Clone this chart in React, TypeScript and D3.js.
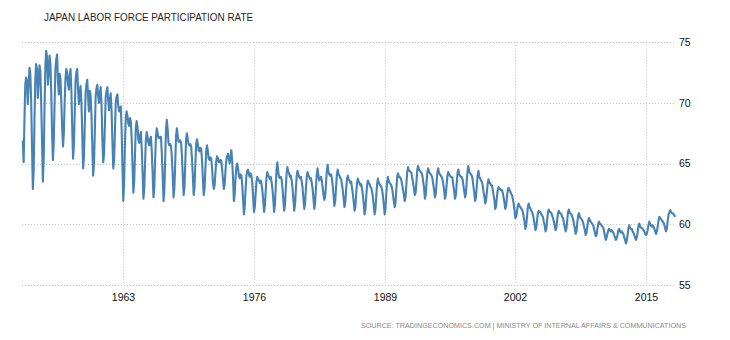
import React from "react";
import * as d3 from "d3";

const title = "JAPAN LABOR FORCE PARTICIPATION RATE";
const source = "SOURCE: TRADINGECONOMICS.COM | MINISTRY OF INTERNAL AFFAIRS & COMMUNICATIONS";
const startYear = 1953;
const xTickYears = [1963, 1976, 1989, 2002, 2015];
const yTicks = [55, 60, 65, 70, 75];

// monthly values (Jan..Dec), one row per year from 1953
const monthlyRows = [
  "66.9 65.1 68.5 71.5 72.1 71.8 69.9 71.5 72.9 72.4 70.2 66.5",
  "62.9 64.5 68.5 72.0 73.2 72.8 70.4 71.8 73.1 72.6 70.0 66.8",
  "63.5 65.5 69.5 73.0 74.3 73.8 71.5 72.5 73.9 73.2 70.8 67.5",
  "65.3 66.8 70.0 72.8 73.6 74.0 71.8 70.7 72.4 72.0 70.0 68.0",
  "66.4 67.5 70.0 72.0 72.8 72.5 71.6 71.1 72.2 72.8 71.0 68.0",
  "65.4 66.5 69.0 71.8 72.5 72.8 71.2 69.9 70.8 71.4 70.0 67.5",
  "64.6 65.5 68.0 70.8 71.5 71.9 70.5 69.3 71.0 70.6 69.0 66.5",
  "64.0 65.0 67.5 70.5 71.2 71.5 70.6 70.0 70.8 71.3 69.8 67.0",
  "65.1 65.8 68.0 70.5 71.0 71.3 70.2 69.4 70.3 70.8 69.3 66.8",
  "64.6 65.3 67.5 70.0 70.5 70.7 69.8 69.3 69.5 69.7 67.8 64.8",
  "61.9 63.5 66.5 68.8 69.3 68.9 68.3 68.1 68.75 68.5 67.0 65.0",
  "62.6 63.5 65.8 68.0 68.5 68.0 67.0 66.7 67.3 67.6 66.2 64.3",
  "62.1 62.9 65.0 67.0 67.6 67.2 66.7 66.5 67.0 67.2 66.0 64.2",
  "62.2 63.0 65.2 67.2 67.9 67.5 67.1 67.1 67.2 67.2 65.8 64.0",
  "61.9 62.8 65.2 67.8 68.6 67.8 66.7 66.5 66.6 66.4 65.5 64.0",
  "62.2 63.0 65.0 67.3 67.9 67.3 66.8 66.8 66.9 66.7 65.6 64.0",
  "62.4 63.0 65.0 67.0 67.5 67.0 66.6 66.5 66.6 66.4 65.4 64.0",
  "62.4 63.0 64.8 66.6 67.0 66.6 66.1 66.0 66.3 66.2 65.2 63.8",
  "62.4 62.9 64.5 66.0 66.5 66.0 65.4 65.3 65.5 65.4 64.6 63.5",
  "62.9 63.2 64.2 65.2 65.6 65.4 65.1 65.1 65.3 65.2 64.5 63.7",
  "62.9 63.3 64.4 65.3 65.6 65.8 65.4 65.0 65.6 66.1 65.2 63.8",
  "61.9 62.5 63.8 64.7 65.0 64.6 64.0 63.8 64.1 64.0 63.2 62.0",
  "60.8 61.5 62.8 64.0 64.4 64.5 64.1 63.9 64.2 64.0 63.4 62.3",
  "61.0 61.4 62.5 63.5 63.9 63.7 63.6 63.4 63.6 63.3 62.8 62.0",
  "61.0 61.5 62.7 63.9 64.3 64.0 63.9 63.7 63.9 63.5 62.9 62.1",
  "61.0 61.6 63.0 64.5 65.1 64.3 63.9 63.8 63.9 63.7 63.0 62.1",
  "61.1 61.6 62.9 64.2 64.7 64.3 64.2 63.9 64.0 63.6 63.0 62.1",
  "61.1 61.6 62.8 64.0 64.4 64.1 63.9 63.8 63.9 63.5 63.0 62.1",
  "61.25 61.7 62.9 63.9 64.3 64.0 63.9 63.7 63.8 63.4 62.9 62.1",
  "61.25 61.8 63.0 64.1 64.6 64.0 63.6 63.7 63.9 63.6 63.0 62.4",
  "62.0 62.3 63.3 64.4 64.9 64.3 64.1 64.0 64.1 63.8 63.2 62.4",
  "61.5 61.9 63.0 64.1 64.5 64.1 64.0 63.8 63.7 63.3 62.8 62.1",
  "61.4 61.8 62.8 63.7 64.0 63.7 63.6 63.4 63.5 63.0 62.5 61.9",
  "61.1 61.4 62.4 63.4 63.75 63.5 63.4 63.2 63.3 62.9 62.4 61.7",
  "60.8 61.2 62.2 63.2 63.6 63.4 63.3 63.1 63.0 62.7 62.2 61.5",
  "60.8 61.2 62.3 63.3 63.75 63.4 63.3 63.2 63.1 62.8 62.3 61.6",
  "60.8 61.3 62.5 63.5 63.9 63.5 63.4 63.3 63.2 62.9 62.4 61.9",
  "61.4 61.8 62.9 63.9 64.2 63.9 63.9 63.8 63.6 63.2 62.8 62.4",
  "61.9 62.3 63.3 64.3 64.7 64.4 64.4 64.3 64.2 63.8 63.4 62.9",
  "62.4 62.6 63.5 64.5 64.8 64.5 64.4 64.3 64.2 64.0 63.5 63.0",
  "62.1 62.4 63.4 64.3 64.6 64.3 64.2 64.1 64.0 63.8 63.3 62.8",
  "62.2 62.5 63.4 64.3 64.6 64.2 64.1 64.0 63.9 63.7 63.3 62.8",
  "62.1 62.4 63.2 64.0 64.3 64.1 64.0 63.9 63.9 63.8 63.2 62.7",
  "62.1 62.4 63.3 64.2 64.5 64.1 64.0 63.9 63.9 63.7 63.2 62.7",
  "62.2 62.5 63.5 64.4 64.8 64.3 64.2 64.1 64.0 63.7 63.1 62.6",
  "61.9 62.2 63.1 64.0 64.4 63.9 63.8 63.6 63.5 63.2 62.7 62.3",
  "61.7 61.9 62.6 63.3 63.7 63.4 63.4 63.2 63.2 62.9 62.4 62.0",
  "61.25 61.5 62.2 62.8 63.05 62.9 62.9 62.8 62.8 62.6 62.2 61.8",
  "61.25 61.5 62.2 62.8 63.0 62.8 62.7 62.5 62.4 62.1 61.7 61.2",
  "60.5 60.6 61.0 61.5 61.7 61.5 61.4 61.3 61.2 61.0 60.6 60.2",
  "59.6 59.9 60.6 61.4 61.7 61.4 61.3 61.1 61.0 60.8 60.4 60.0",
  "59.5 59.7 60.3 60.9 61.1 61.0 61.0 60.8 60.7 60.6 60.2 59.9",
  "59.4 59.6 60.3 61.0 61.2 61.0 61.0 60.9 60.7 60.5 60.2 59.9",
  "59.5 59.7 60.3 60.9 61.1 60.9 60.9 60.8 60.6 60.5 60.1 59.8",
  "59.4 59.6 60.3 61.0 61.2 60.9 60.9 60.8 60.6 60.4 60.0 59.7",
  "59.2 59.4 60.1 60.7 60.9 60.6 60.5 60.4 60.3 60.1 59.8 59.5",
  "59.1 59.3 59.8 60.3 60.5 60.3 60.2 60.1 60.0 59.9 59.6 59.3",
  "59.0 59.1 59.6 60.0 60.2 60.0 60.0 59.9 59.8 59.7 59.4 59.0",
  "58.7 58.9 59.2 59.5 59.6 59.5 59.4 59.5 59.4 59.3 59.1 58.9",
  "58.7 58.8 59.1 59.5 59.6 59.4 59.3 59.4 59.3 59.2 58.9 58.7",
  "58.4 58.6 59.1 59.6 59.9 59.7 59.6 59.6 59.4 59.3 59.1 58.9",
  "58.7 58.9 59.3 59.8 60.05 59.8 59.7 59.7 59.6 59.5 59.4 59.2",
  "59.1 59.2 59.5 59.9 60.2 60.0 59.9 59.8 59.9 59.8 59.6 59.4",
  "59.2 59.4 59.8 60.3 60.6 60.5 60.4 60.3 60.2 60.1 59.9 59.6",
  "59.4 59.7 60.3 60.8 61.0 61.15 61.0 60.9 60.9 60.8 60.7 60.6",
];

type Pt = { date: Date; value: number };
const series: Pt[] = monthlyRows.flatMap((row, yi) =>
  row.split(" ").map((v, m) => ({ date: new Date(startYear + yi, m, 1), value: +v }))
);

const W = 730;
const H = 340;
const plotLeft = 22;
const plotRight = 675;

export default function App() {
  const x = d3
    .scaleTime()
    .domain([new Date(1953, 0, 1), new Date(2015, 0, 1)])
    .range([22.8, 646]);
  const y = d3.scaleLinear().domain([55, 75]).range([284.7, 42.3]);
  const line = d3
    .line<Pt>()
    .x((d) => x(d.date))
    .y((d) => y(d.value))
    .curve(d3.curveLinear);

  const grid = "#c4c4c4";
  const font = "'Liberation Sans', Arial, sans-serif";

  return (
    <svg
      width={W}
      height={H}
      style={{ position: "absolute", left: 0, top: 0, background: "#fff" }}
    >
      <text
        x={44}
        y={21}
        fontFamily={font}
        fontSize={10.7}
        fill="#1f1f2a"
        textLength={209}
        lengthAdjust="spacingAndGlyphs"
      >
        {title}
      </text>
      {yTicks.map((t) => (
        <g key={t}>
          <line
            x1={plotLeft}
            x2={plotRight}
            y1={Math.round(y(t)) + 0.5}
            y2={Math.round(y(t)) + 0.5}
            stroke={grid}
            strokeDasharray="1,2"
          />
          <text x={679} y={y(t) + 3.8} fontFamily={font} fontSize={10.5} fill="#111">
            {t}
          </text>
        </g>
      ))}
      {xTickYears.map((yr) => {
        const px = Math.round(x(new Date(yr, 0, 1))) + 0.5;
        return (
          <g key={yr}>
            <line x1={px} x2={px} y1={y(75)} y2={y(55) + 1} stroke={grid} strokeDasharray="1,2" />
            <text
              x={px}
              y={300.5}
              textAnchor="middle"
              fontFamily={font}
              fontSize={10.5}
              fill="#111"
            >
              {yr}
            </text>
          </g>
        );
      })}
      <path
        d={line(series) || ""}
        fill="none"
        stroke="#4682b4"
        strokeWidth={2.1}
        strokeLinejoin="round"
      />
      <text
        x={361}
        y={327.5}
        fontFamily={font}
        fontSize={8}
        fill="#8a8a8a"
        textLength={325}
        lengthAdjust="spacingAndGlyphs"
      >
        {source}
      </text>
    </svg>
  );
}
